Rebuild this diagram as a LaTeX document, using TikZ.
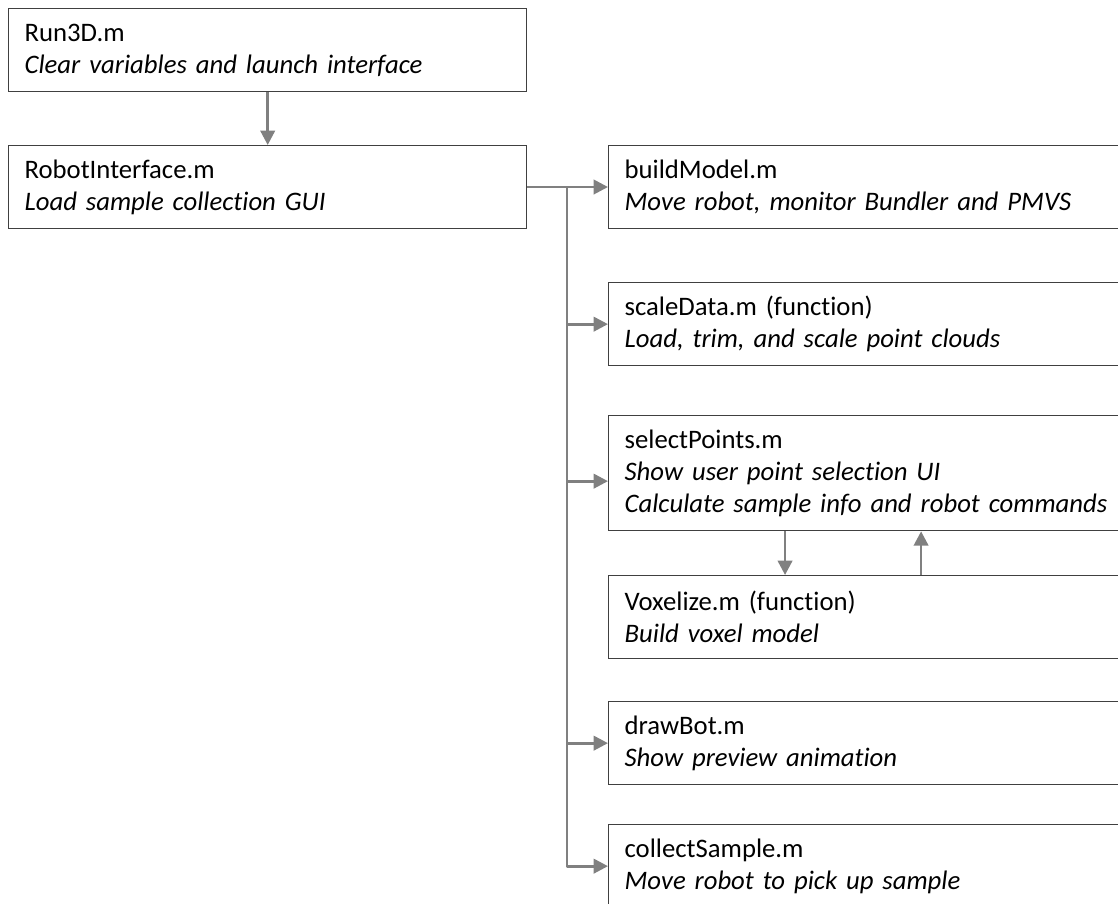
\documentclass[tikz,border=0pt]{standalone}
\usepackage{fontspec}
\setmainfont{Carlito}[Ligatures=NoCommon]
\usetikzlibrary{arrows.meta,calc}

\tikzset{
	filebox/.style={draw=black!75, line width=0.9pt, anchor=north west, align=left,
		inner xsep=0.4cm, inner ysep=0pt, minimum height=2.075cm,
		font=\fontsize{19}{22.8}\selectfont},
	leftbox/.style={filebox, text width=12.15cm},
	rightbox/.style={filebox, text width=14cm},
	link/.style={draw=black!50, line width=2pt, line join=round,
		-{Triangle[length=0.36cm,width=0.36cm]}},
}

\begin{document}
\begin{tikzpicture}[x=0.025cm, y=-0.025cm]
		%%%%% START %%%%%
		\useasboundingbox (0, 0) rectangle (1118, 903);
		\clip (0, 0) rectangle (1118, 903);
		
		\node[leftbox] (run3d) at (8, 8) {Run3D.m\\\textit{Clear variables and launch interface}};
		\node[leftbox] (robot) at (8, 145) {RobotInterface.m\\\textit{Load sample collection GUI}};
		
		\node[rightbox] (build) at (608, 145) {buildModel.m\\\textit{Move robot, monitor Bundler and PMVS}};
		\node[rightbox] (scale) at (608, 282) {scaleData.m (function)\\\textit{Load, trim, and scale point clouds}};
		\node[rightbox, minimum height=2.875cm] (select) at (608, 415) {selectPoints.m\\\textit{Show user point selection UI}\\\textit{Calculate sample info and robot commands}};
		\node[rightbox] (voxel) at (608, 575) {Voxelize.m (function)\\\textit{Build voxel model}};
		\node[rightbox] (drawbot) at (608, 701) {drawBot.m\\\textit{Show preview animation}};
		\node[rightbox] (collect) at (608, 824) {collectSample.m\\\textit{Move robot to pick up sample}};
		
		\coordinate (trunk) at (567, 187);
		
		\draw[link] (run3d) -- (robot);
		\draw[link] (robot.east |- trunk) -- (build.west |- trunk);
		\draw[link] (trunk) |- (scale.west);
		\draw[link] (trunk) |- ([yshift=-0.2cm]select.west);
		\draw[link] (trunk) |- (drawbot.west);
		\draw[link] (trunk) |- (collect.west);
		
		\draw[link] ([xshift=4.425cm]select.south west) -- ([xshift=4.425cm]voxel.north west);
		\draw[link] ([xshift=7.825cm]voxel.north west) -- ([xshift=7.825cm]select.south west);
		
		%%%%% END %%%%%
	\end{tikzpicture}
\end{document}
